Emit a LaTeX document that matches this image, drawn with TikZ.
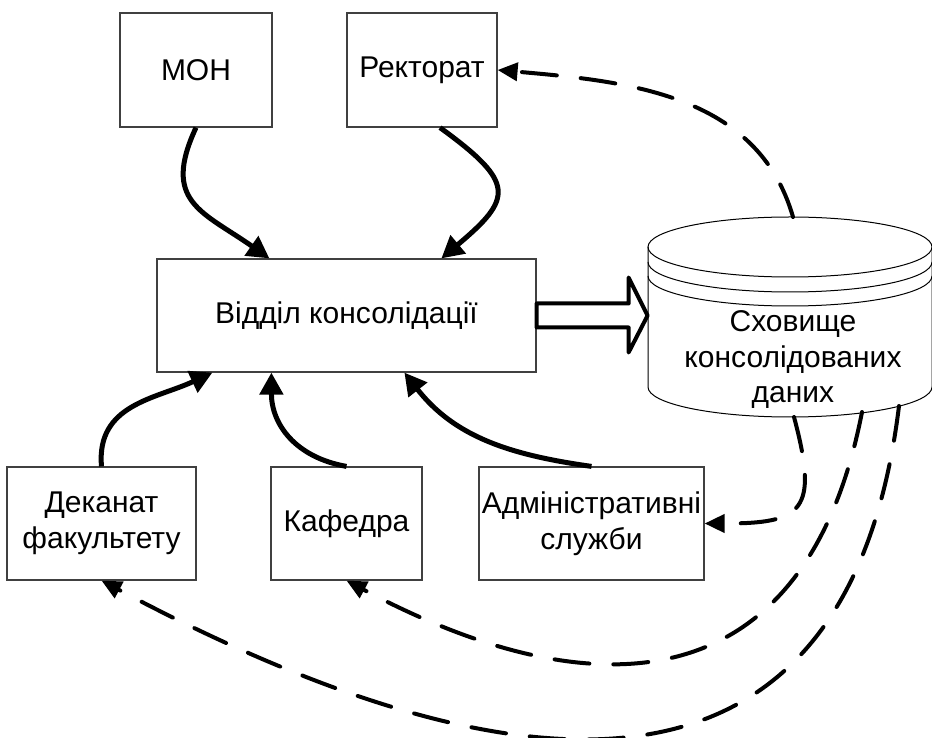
\documentclass[tikz,border=0pt]{standalone}
\usepackage{fontspec}
\setmainfont{Liberation Sans}
\usetikzlibrary{arrows.meta,calc}

\begin{document}
\begin{tikzpicture}[x=1pt,y=1pt,
  box/.style={draw=black!75,line width=1.2pt,inner sep=0pt,align=center,
    font=\fontsize{30}{35.5}\selectfont},
  flow/.style={line width=5pt,-{Triangle[length=22pt,width=23pt]}},
  feedback/.style={line width=4pt,line cap=round,dash pattern=on 35pt off 24pt,
    -{Triangle[length=20pt,width=18pt]}}]
  \useasboundingbox (0,0) rectangle (932,737);

  % blocks
  \node[box,minimum width=152pt,minimum height=114pt] (mon) at (196,667) {МОН};
  \node[box,minimum width=150pt,minimum height=114pt] (rector) at (422,667) {Ректорат};
  \node[box,minimum width=379pt,minimum height=113pt] (vid) at (346.5,421.5) {Відділ консолідації};
  \node[box,minimum width=189pt,minimum height=113pt] (dekanat) at (101.5,213.5) {Деканат\\факультету};
  \node[box,minimum width=151pt,minimum height=113pt] (kafedra) at (346.5,213.5) {Кафедра};
  \node[box,minimum width=225pt,minimum height=113pt] (admin) at (591.5,213.5) {Адміністративні\\служби};

  % storage
  \draw[line width=1pt] (648,490) -- (648,350) arc[start angle=180,end angle=360,x radius=142,y radius=30] -- (932,490);
  \draw[line width=1pt] (790,490) ellipse[x radius=142,y radius=30];
  \draw[line width=1pt] (648,475) arc[start angle=180,end angle=360,x radius=142,y radius=30];
  \draw[line width=1pt] (648,461) arc[start angle=180,end angle=360,x radius=142,y radius=30];
  \node[align=center,font=\fontsize{30}{35.5}\selectfont] (store) at (793,377) {Сховище\\консолідованих\\даних};
  \coordinate (stop) at (793,520);
  \coordinate (sb1) at (794,320);
  \coordinate (sb2) at (862,325);
  \coordinate (sb3) at (899,331);

  % block arrow
  \draw[line width=4pt,line join=round,fill=white] ($(vid.east)+(0,12)$) -- ++(92,0) -- ++(0,26)
    -- ($(vid.east)+(111,0)$) -- ($(vid.east)+(92,-37)$) -- ++(0,25) -- ($(vid.east)+(0,-12)$) -- cycle;

  % inputs
  \draw[flow] (mon.south) to[out=-115,in=145,looseness=1.4] ($(vid.north west)+(113,0)$);
  \draw[flow] ($(rector.south)+(18,0)$) to[out=-36,in=40,looseness=1.83] ($(vid.north west)+(285,0)$);
  \draw[flow] (dekanat.north) to[out=95,in=-155,looseness=1.1] ($(vid.south west)+(56,0)$);
  \draw[flow] (kafedra.north) to[out=170,in=-90,looseness=1.1] ($(vid.south west)+(115,0)$);
  \draw[flow] (admin.north) to[out=172,in=-52] ($(vid.south west)+(248,0)$);

  % outputs
  \draw[feedback] (stop) to[out=106,in=-5] (rector.east);
  \draw[feedback] (sb1) to[out=-75,in=0,looseness=1.8] (admin.east);
  \draw[feedback] (sb2) to[out=-101,in=-28,looseness=1.37] (kafedra.south);
  \draw[feedback] (sb3) to[out=-97,in=-28,looseness=1.39] (dekanat.south);
\end{tikzpicture}
\end{document}
